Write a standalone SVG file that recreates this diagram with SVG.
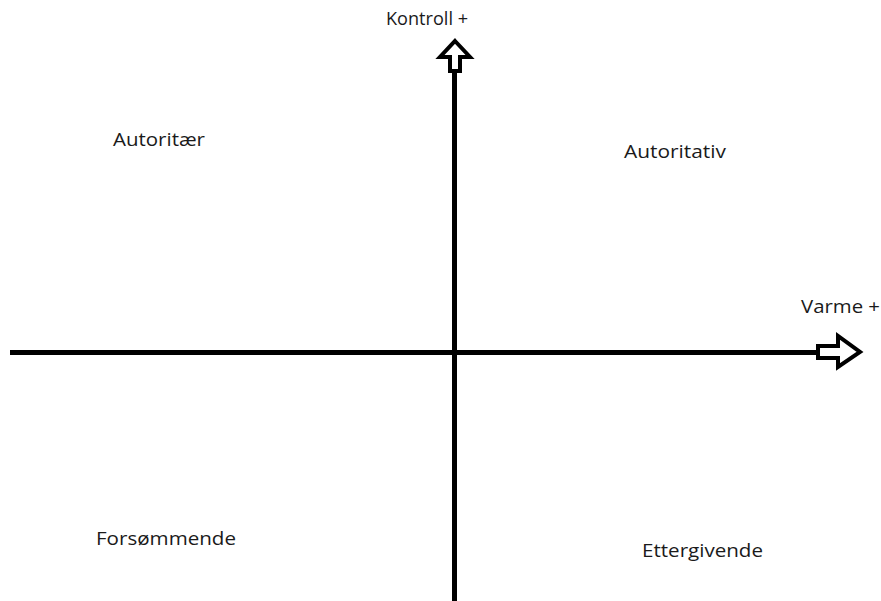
<svg xmlns="http://www.w3.org/2000/svg" width="881" height="601" viewBox="0 0 881 601">
<style>
.t{font-family:"Open Sans","Liberation Sans",Arial,sans-serif;font-size:17.5px;fill:#1a1a1a;lengthAdjust:spacingAndGlyphs}
.ax{stroke:#000;stroke-width:5;fill:none}
.hd{stroke:#000;stroke-width:4;fill:#fff;stroke-linejoin:miter}
</style>
<rect width="881" height="601" fill="#fff"/>
<g id="connectors">
<line class="ax" x1="10" y1="352.5" x2="818" y2="352.5"/>
<line class="ax" x1="454.5" y1="71" x2="454.5" y2="601"/>
<polygon class="hd" points="455,41 470,57 460,57 460,71 450,71 450,57 440,57"/>
<polygon class="hd" points="818,346 838,346 838,336 860,352 838,367 838,358 818,358"/>
</g>
<g id="kontroll"><text class="t" x="386" y="25" textLength="82" lengthAdjust="spacingAndGlyphs">Kontroll +</text></g>
<g id="varme"><text class="t" x="801" y="313" textLength="79" lengthAdjust="spacingAndGlyphs">Varme +</text></g>
<g id="autoritaer"><text class="t" x="113" y="146" textLength="92" lengthAdjust="spacingAndGlyphs">Autoritær</text></g>
<g id="autoritativ"><text class="t" x="624" y="158" textLength="102" lengthAdjust="spacingAndGlyphs">Autoritativ</text></g>
<g id="forsommende"><text class="t" x="96" y="545" textLength="140" lengthAdjust="spacingAndGlyphs">Forsømmende</text></g>
<g id="ettergivende"><text class="t" x="642" y="557" textLength="121" lengthAdjust="spacingAndGlyphs">Ettergivende</text></g>
</svg>
